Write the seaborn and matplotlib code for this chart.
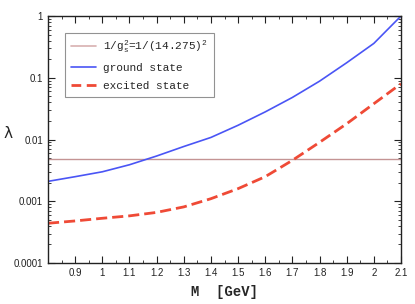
import numpy as np
import pandas as pd
import matplotlib
matplotlib.use("Agg")
import matplotlib.pyplot as plt
import seaborn as sns
from matplotlib.ticker import LogLocator, NullFormatter, MultipleLocator
from matplotlib.lines import Line2D

# data
M = [0.8, 0.9, 1.0, 1.1, 1.2, 1.3, 1.4, 1.5, 1.6, 1.7, 1.8, 1.9, 2.0, 2.1]
ground = [0.0021, 0.0025, 0.0030, 0.0039, 0.0054, 0.0077, 0.0108, 0.017, 0.028,
          0.048, 0.088, 0.175, 0.36, 1.0]
excited = [0.00044, 0.00048, 0.00053, 0.00058, 0.00066, 0.00081, 0.0011, 0.0016,
           0.0025, 0.0046, 0.0090, 0.018, 0.038, 0.080]
gs = 14.275
xticks = [0.9, 1.0, 1.1, 1.2, 1.3, 1.4, 1.5, 1.6, 1.7, 1.8, 1.9, 2.0, 2.1]
xticklabels = ["0.9", "1", "1.1", "1.2", "1.3", "1.4", "1.5", "1.6", "1.7", "1.8", "1.9", "2", "2.1"]
yticks = [1e-4, 1e-3, 1e-2, 1e-1, 1]
yticklabels = ["0.0001", "0.001", "0.01", "0.1", "1"]

sns.set_style("ticks")
plt.rcParams["font.family"] = ["Liberation Sans", "DejaVu Sans"]

df = pd.DataFrame({"M": M + M,
                   "lam": ground + excited,
                   "state": ["ground state"] * len(M) + ["excited state"] * len(M)})

fig = plt.figure(figsize=(4.15, 3.04), dpi=100)
ax = fig.add_axes([48/415, 1-263/304, (401-48)/415, (263-16)/304])

ax.axhline(1/gs**2, color="#c49494", lw=1.0)
sns.lineplot(data=df, x="M", y="lam", hue="state", style="state",
             palette={"ground state": "#4a55f5", "excited state": "#ef4a36"},
             dashes={"ground state": "", "excited state": (4, 1.8)},
             ax=ax, legend=False)
lines = ax.get_lines()
lines[1].set_linewidth(1.2)
lines[2].set_linewidth(2.0)

ax.set_yscale("log")
ax.set_xlim(0.8, 2.1)
ax.set_ylim(1e-4, 1)
ax.set_xticks(xticks)
ax.set_xticklabels(xticklabels)
ax.xaxis.set_minor_locator(MultipleLocator(0.05))
ax.set_yticks(yticks)
ax.set_yticklabels(yticklabels)
ax.yaxis.set_minor_locator(LogLocator(base=10, subs=np.arange(2, 10)))
ax.yaxis.set_minor_formatter(NullFormatter())
ax.tick_params(which="both", direction="in", top=True, right=True, labelsize=7, colors="#222222")
ax.tick_params(which="major", length=5, width=0.8)
ax.tick_params(which="minor", length=2.5, width=0.6)
for s in ax.spines.values():
    s.set_linewidth(1.0)
    s.set_color("#222222")

ax.set_xlabel("M  [GeV]", fontsize=10, family=["Liberation Mono", "DejaVu Sans"], fontweight="bold")
ax.xaxis.set_label_coords(0.5, (263-292)/247)
ax.xaxis.label.set_va("center")
ax.set_ylabel("λ", fontsize=11, family=["DejaVu Sans"], rotation=0)
ax.yaxis.set_label_coords((8-48)/353, (263-133)/247)
ax.yaxis.label.set_va("center")

handles = [Line2D([], [], color="#d8b0b0", lw=1.2),
           Line2D([], [], color="#4a55f5", lw=1.2),
           Line2D([], [], color="#ef4a36", lw=2.0, dashes=(3.5, 2))]
labels = [r"1/g$_\mathregular{s}^\mathregular{2}$=1/(14.275)$^\mathregular{2}$", "ground state", "excited state"]
leg = ax.legend(handles, labels, loc="upper left", bbox_to_anchor=(0.048, 0.931),
                prop={"family": "Liberation Mono", "size": 8}, frameon=True,
                fancybox=False, edgecolor="#777777", handlelength=2.25, borderpad=0.55,
                labelspacing=0.7, handletextpad=0.65, borderaxespad=0)
leg.get_frame().set_linewidth(0.8)

fig.savefig("out.png", dpi=100, facecolor="white")
